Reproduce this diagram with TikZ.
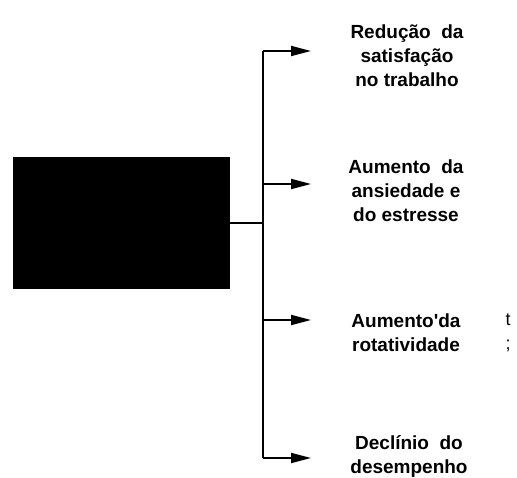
\documentclass[tikz,border=0pt]{standalone}
\usepackage{fontspec}
\setmainfont{Liberation Sans}
\usetikzlibrary{arrows.meta}

\begin{document}
\begin{tikzpicture}[x=1pt, y=-1pt,
    cause/.style={rectangle, fill=black, minimum width=217pt, minimum height=132pt, inner sep=0pt},
    effect/.style={align=center, inner sep=0pt, font=\bfseries\fontsize{19}{24}\selectfont},
    link/.style={line width=2.2pt},
    arr/.style={-{Triangle[length=20pt, width=10pt]}, line width=1.8pt}
]
\useasboundingbox (0,0) rectangle (517,478);

% Cause
\node[cause] (box) at (121.5, 223) {};

% Effects
\node[effect] (e1) at (407, 56)  {Redução\ \ da\\satisfação\\no trabalho};
\node[effect] (e2) at (406, 191) {Aumento\ \ da\\ansiedade e\\do estresse};
\node[effect] (e3) at (406, 333) {Aumento\textquotesingle da\\rotatividade};
\node[effect] (e4) at (409, 457) {Declínio\ \ do\\desempenho};
\node[align=center, inner sep=0pt, font=\fontsize{18}{24}\selectfont] (mark) at (508, 333) {t\\;};

% Bracket
\foreach \i/\y in {1/51, 2/184, 3/320, 4/458} {
    \coordinate (b\i) at (263, \y);
    \coordinate (t\i) at (311, \y);
}
\draw[link] (box.east) -- (box.east -| b1);
\draw[link] (b1) -- (b4);
\foreach \i in {1,...,4}
    \draw[arr] (b\i) -- (t\i);

\end{tikzpicture}
\end{document}
